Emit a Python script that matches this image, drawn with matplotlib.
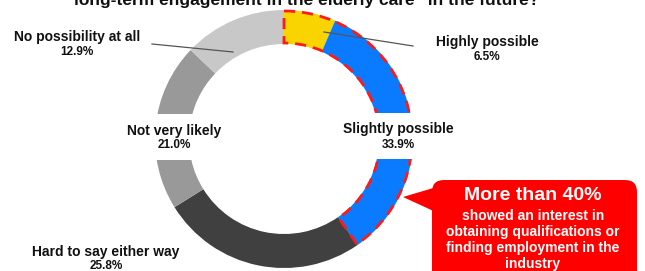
import matplotlib
matplotlib.use("Agg")
import matplotlib.pyplot as plt
from matplotlib.patches import Wedge, Rectangle, FancyBboxPatch, Polygon

plt.rcParams['font.family'] = ['Liberation Sans', 'DejaVu Sans']

categories = ["Highly possible", "Slightly possible", "Hard to say either way",
              "Not very likely", "No possibility at all"]
values = [6.5, 33.9, 25.8, 21.0, 12.9]
colors = ["#FAD400", "#0A7BFF", "#404040", "#999999", "#C8C8C8"]
title = "long-term engagement in the elderly care\" in the future?"
callout_head = "More than 40%"
callout_body = "showed an interest in\nobtaining qualifications or\nfinding employment in the\nindustry"

W, H = 645, 271
fig = plt.figure(figsize=(W / 100, H / 100), dpi=100)
ax = fig.add_axes([0, 0, 1, 1])
ax.set_xlim(0, W)
ax.set_ylim(H, 0)
ax.axis('off')

cx, cy, R, wd = 284, 139, 129, 34
total = sum(values)
start = 90.0
wedge_angles = []
for v, c in zip(values, colors):
    sweep = v / total * 360
    a1 = -90 + (90 - start)
    a2 = a1 + sweep
    ax.add_patch(Wedge((cx, cy), R, a1, a2, width=wd, facecolor=c, edgecolor='none'))
    wedge_angles.append((a1, a2))
    start -= sweep

# red dashed outline around first two segments
a1 = wedge_angles[0][0]
a2 = wedge_angles[1][1]
ax.add_patch(Wedge((cx, cy), R - 1, a1, a2, width=wd - 2, fill=False,
                   edgecolor='#FF1A1A', linestyle=(0, (4, 2.5)), lw=2.0, zorder=3))

# white boxes behind labels
ax.add_patch(Rectangle((120, 114), 106, 46, facecolor='white', edgecolor='none', zorder=4))
ax.add_patch(Rectangle((338, 113), 120, 46, facecolor='white', edgecolor='none', zorder=4))

lab_kw = dict(ha='center', va='center', fontweight='bold', color='#111111', zorder=6)
labels_pos = {
    0: (487, 42, 57),
    1: (398, 129, 145),
    2: (106, 252, 266),
    3: (174, 131, 145),
    4: (77, 37, 52),
}
for i, (x, y1, y2) in labels_pos.items():
    ax.text(x, y1, categories[i], fontsize=10, **lab_kw)
    ax.text(x, y2, f"{values[i]:.1f}%", fontsize=8.5, **lab_kw)

# leader lines
ax.plot([152, 233], [44, 52], color='#555555', lw=0.9, zorder=5)
ax.plot([324, 413], [32, 46], color='#555555', lw=0.9, zorder=5)

# title (clipped at top, as in the reference)
ax.text(307, 5, title, ha='center', va='baseline', fontsize=12.5,
        fontweight='bold', color='#111111')

# callout
red = '#FF0000'
ax.add_patch(FancyBboxPatch((438, 186), 193, 110, boxstyle="round,pad=6,rounding_size=12",
                            facecolor=red, edgecolor='none', zorder=7))
ax.add_patch(Polygon([(403, 197), (440, 186), (440, 214)], closed=True,
                     facecolor=red, edgecolor='none', zorder=7))
ax.text(533, 195, callout_head, ha='center', va='center', color='white',
        fontsize=14, fontweight='bold', zorder=8)
ax.text(533, 240, callout_body, ha='center', va='center', color='white',
        fontsize=10, fontweight='bold', linespacing=1.18, zorder=8)

fig.savefig("out.png", dpi=100)
